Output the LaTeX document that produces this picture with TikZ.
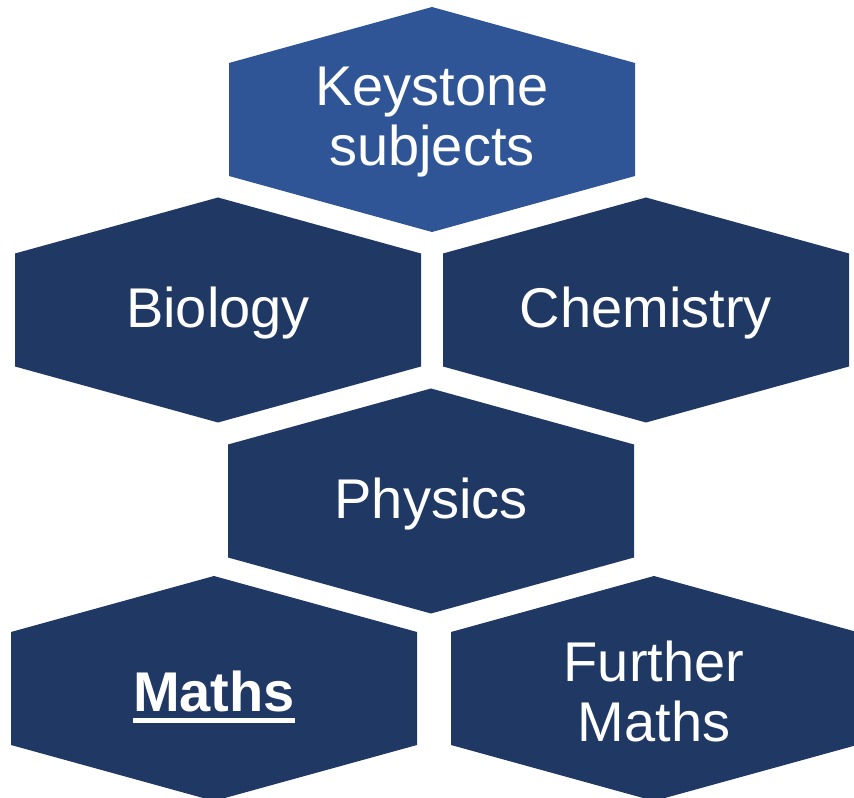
\documentclass[tikz,border=0pt]{standalone}
\usepackage{fontspec}
\setmainfont{Liberation Sans}
\usetikzlibrary{positioning, calc}
\definecolor{keyblue}{RGB}{47,85,151}
\definecolor{subjnavy}{RGB}{32,56,100}
\tikzset{
    subject/.style={text=white, align=center, inner sep=0pt, yshift=-2.25pt,
        font=\fontsize{42}{45}\selectfont}
}
% hexagon around a centre point, in pixels
\def\hexpath#1#2{%
    (#1,#2) ++(0,-112.5) -- ++(203,56) -- ++(0,113) -- ++(-203,56)
        -- ++(-203,-56) -- ++(0,-113) -- cycle}

\begin{document}
\begin{tikzpicture}[x=0.75pt, y=-0.75pt]
    \useasboundingbox (0,0) rectangle (854,798);

    % cells
    \foreach \name/\cx/\cy/\co/\txt in {
        keystone/432/119.5/keyblue/{Keystone\\subjects},
        biology/218/310/subjnavy/{Biology},
        chemistry/646/310/subjnavy/{Chemistry},
        physics/431/501/subjnavy/{Physics},
        maths/214/688.5/subjnavy/{\bfseries Maths},
        further/654/688.5/subjnavy/{Further\\Maths}}{

        \fill[\co] \hexpath{\cx}{\cy};
        \node[subject] (\name) at (\cx,\cy) {\txt};
    }

    % underline
    \draw[white, line width=3.75pt]
        ([yshift=-6.4pt]maths.base west) -- ([yshift=-6.4pt]maths.base east);
\end{tikzpicture}
\end{document}
